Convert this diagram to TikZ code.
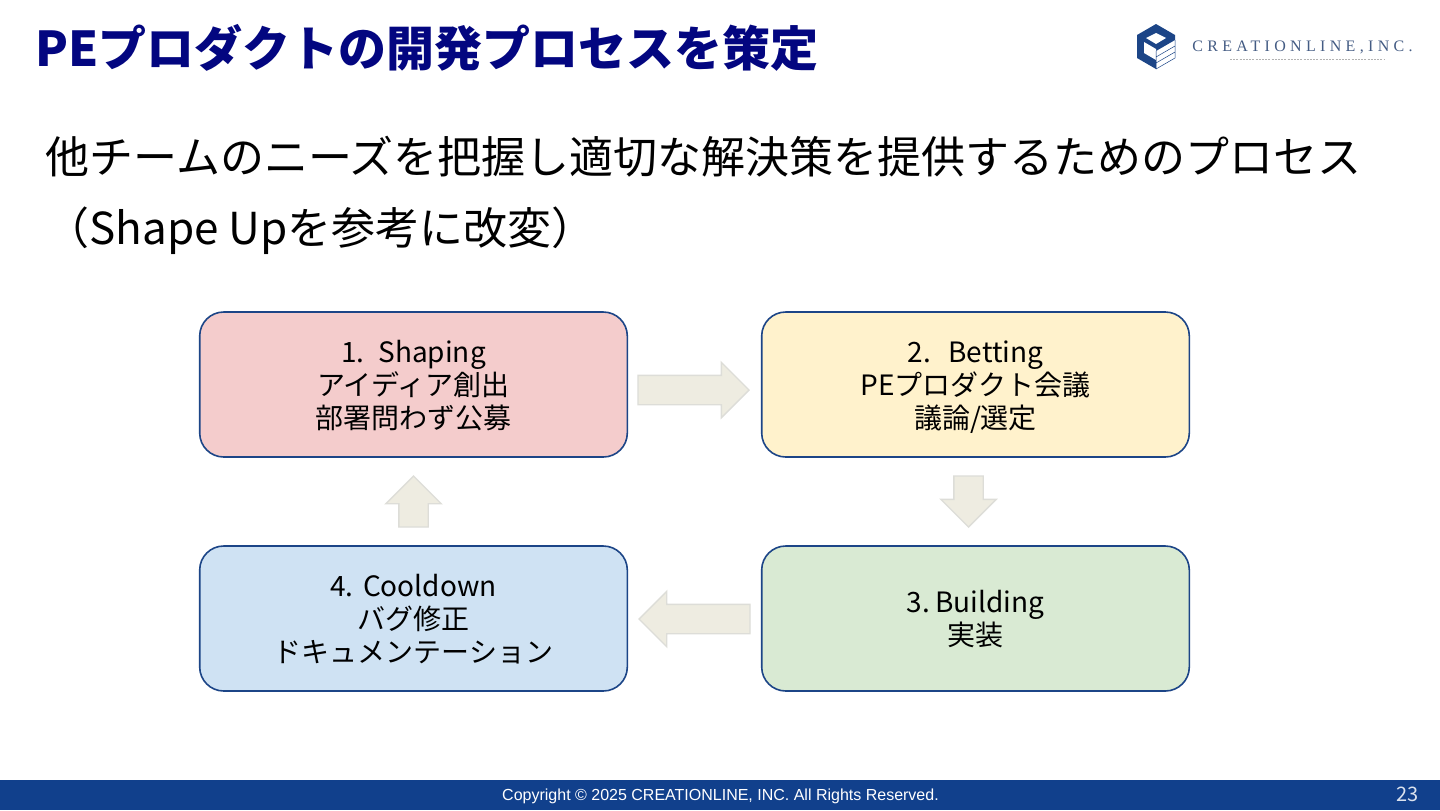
\documentclass[tikz,border=0pt]{standalone}
\usepackage{fontspec}
\usepackage{xcolor}
\usepackage{tikz}
\usetikzlibrary{shapes.arrows, positioning}
\setmainfont{Noto Sans CJK JP}
\newfontfamily\footfont{Liberation Sans}
\newfontfamily\logofont[LetterSpace=27]{Liberation Serif}
\definecolor{mytitle}{RGB}{3,6,128}
\definecolor{myblue}{RGB}{28,69,135}
\definecolor{mybar}{RGB}{17,64,140}
\definecolor{myarrow}{RGB}{238,236,225}
\definecolor{myarrowline}{RGB}{221,221,216}
\definecolor{hdrred}{RGB}{244,204,204}
\definecolor{hdryellow}{RGB}{255,242,204}
\definecolor{hdrgreen}{RGB}{217,234,211}
\definecolor{hdrblue}{RGB}{207,226,243}
\tikzset{
  block/.style={rectangle, draw=myblue, text width=213.8pt, align=center,
    inner xsep=0pt, outer sep=0pt, minimum height=72.5pt,
    font=\fontsize{14}{16.5}\selectfont, rounded corners=12pt, line width=0.8pt,
    execute at begin node={\rule{0pt}{13.5pt}}, execute at end node={\rule[-3pt]{0pt}{3pt}}},
  bigarrow/.style={single arrow, draw=myarrowline, fill=myarrow, line width=0.7pt,
    inner xsep=0pt, inner ysep=7pt, outer sep=0pt, single arrow head extend=6.5pt,
    minimum width=25.8pt},
  headline/.style={anchor=west, inner sep=0pt, font=\fontsize{22}{26}\selectfont}
}

\begin{document}
\begin{tikzpicture}[x=0.5pt, y=-0.5pt]
  \useasboundingbox (0,0) rectangle (1440,810);
  \fill[white] (0,0) rectangle (1440,810);
  \fill[mybar] (0,780) rectangle (1440,810);
  \node[anchor=west, inner sep=0pt, text=mytitle, font=\fontsize{24}{28}\selectfont\bfseries] (title) at (35,48) {PEプロダクトの開発プロセスを策定};
  \node[headline] (sub1) at (45,157) {他チームのニーズを把握し適切な解決策を提供するためのプロセス};
  \node[headline] (sub2) at (45,231) {（Shape Upを参考に改変）};
  % logo
  \fill[myblue] (1156,24) -- (1175,35) -- (1175,40) -- (1156,51) -- (1156,69) -- (1137,58) -- (1137,35) -- cycle;
  \fill[white] (1156,33) -- (1166,38) -- (1156,44) -- (1146,38) -- cycle;
  \fill[white] (1144,42) -- (1156,49) -- (1156,60) -- (1144,53) -- cycle;
  \draw[myblue, line width=0.25pt] (1156,51) -- (1156,69) -- (1175,58) -- (1175,40)
    (1156,57) -- (1175,46) (1156,63) -- (1175,52);
  \node[anchor=west, inner sep=0pt, text=myblue!60!gray, font=\fontsize{8}{9}\selectfont\logofont] (logo) at (1192,47) {CREATIONLINE,INC.};
  \draw[gray!60, line width=0.4pt, dash pattern=on 1pt off 0.6pt] (1230,59) -- (1384,59);
  % boxes
  \node[block, fill=hdrred] (n1) at (413.5,384.5) {1.  Shaping\\アイディア創出\\部署問わず公募};
  \node[block, fill=hdryellow] (n2) at (975.5,384.5) {2.\kern4pt\ Betting\\PEプロダクト会議\\議論/選定};
  \node[block, fill=hdrgreen] (n3) at (975.5,618.5) {3.\kern-2pt\ Building\\実装};
  \node[block, fill=hdrblue] (n4) at (413.5,618.5) {4.\kern0pt\ Cooldown\\バグ修正\\ドキュメンテーション};
  % arrows between boxes
  \node[bigarrow, minimum height=55.5pt, anchor=tail] (a1) at (638,390) {};
  \node[bigarrow, minimum height=25.5pt, rotate=-90, anchor=tail] (a2) at (968.5,476) {};
  \node[bigarrow, minimum height=55.5pt, rotate=180, anchor=tail] (a3) at (750,619) {};
  \node[bigarrow, minimum height=25.5pt, rotate=90, anchor=tail] (a4) at (413.5,527) {};
  % footer
  \node[text=white, inner sep=0pt, font=\fontsize{8}{10}\selectfont\footfont] (copy) at (720.5,796) {Copyright © 2025 CREATIONLINE, INC. All Rights Reserved.};
  \node[text=white!85!mybar, inner sep=0pt, font=\fontsize{10}{12}\selectfont] (page) at (1407.5,794.5) {23};
\end{tikzpicture}
\end{document}
